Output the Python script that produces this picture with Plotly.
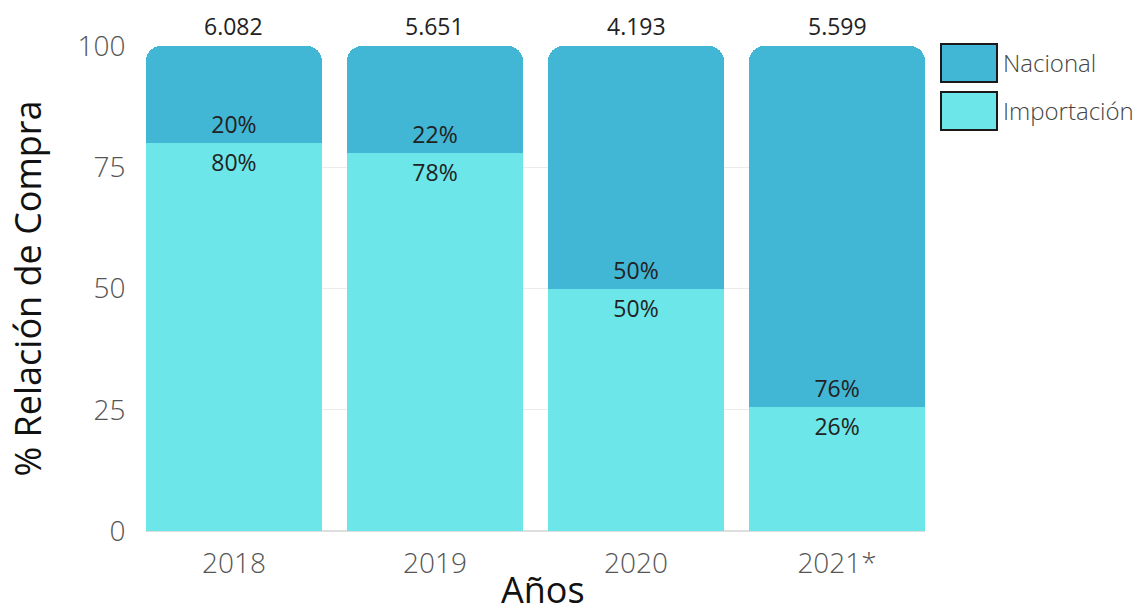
import plotly.graph_objects as go

# Purchase split by origin, per year (percent of total purchases)
years = ["2018", "2019", "2020", "2021*"]
nacional = [20, 22, 50, 76]
importacion = [80, 78, 50, 26]
# Total purchases per year, shown above each bar
totales = ["6.082", "5.651", "4.193", "5.599"]
y_ticks = [0, 25, 50, 75, 100]

legend_names = ["Nacional", "Importación"]
col_nacional = "#41b6d5"
col_importacion = "#6ce6e8"

FONT = "Open Sans"
BARGAP = 0.125

# plot-area geometry (pixels) used for the hand-drawn legend and x title
L, R, T, B = 146, 210, 46, 82
W, H = 1135, 613
PW, PH = W - L - R, H - T - B

fig = go.Figure()

fig.add_trace(go.Bar(
    x=years, y=importacion, name=legend_names[1],
    marker=dict(color=col_importacion, line=dict(width=0)),
    text=importacion, texttemplate="%{text}%",
    textposition="inside", insidetextanchor="end",
    textangle=0,
    textfont=dict(family=FONT, size=23, color="#222222"),
    showlegend=False,
))
fig.add_trace(go.Bar(
    x=years, y=nacional, name=legend_names[0],
    marker=dict(color=col_nacional, line=dict(width=0)),
    text=nacional, texttemplate="%{text}%",
    textposition="inside", insidetextanchor="start",
    textangle=0,
    textfont=dict(family=FONT, size=23, color="#222222"),
    showlegend=False,
))

# Totals above each bar (x is the category index on the category axis)
for i, tot in enumerate(totales):
    fig.add_annotation(
        x=i, y=100, xref="x", yref="y", text=tot,
        showarrow=False, yanchor="bottom", yshift=2,
        font=dict(family=FONT, size=23, color="#222222"),
    )

# Hand-drawn legend with large swatches
legend_items = [(legend_names[0], col_nacional), (legend_names[1], col_importacion)]
for i, (name, col) in enumerate(legend_items):
    y0 = 44 + i * 48
    fig.add_shape(
        type="rect", xref="paper", yref="paper",
        x0=(941 - L) / PW, x1=(997 - L) / PW,
        y0=1 - (y0 + 38 - T) / PH, y1=1 - (y0 - T) / PH,
        fillcolor=col, line=dict(color="#1a1a1a", width=2),
    )
    fig.add_annotation(
        x=(1001 - L) / PW, y=1 - (y0 + 19 - T) / PH,
        xref="paper", yref="paper", text=name, showarrow=False,
        xanchor="left", yanchor="middle",
        font=dict(family=FONT, size=24, color="#444444", weight=300),
    )

# x-axis title near the bottom edge
fig.add_annotation(
    x=(543 - L) / PW, y=-(589 - (H - B)) / PH,
    xref="paper", yref="paper", text="Años", showarrow=False,
    xanchor="center", yanchor="middle",
    font=dict(family=FONT, size=36, color="#111111"),
)

fig.update_layout(
    barmode="stack", barnorm="percent",
    bargap=BARGAP, barcornerradius=15,
    width=W, height=H,
    margin=dict(l=L, r=R, t=T, b=B, autoexpand=False),
    paper_bgcolor="white", plot_bgcolor="white",
    font=dict(family=FONT, color="#444444"),
)
fig.update_xaxes(
    type="category", automargin=False,
    range=[-0.5 + BARGAP / 2, len(years) - 0.5 - BARGAP / 2],
    tickfont=dict(family=FONT, size=28, color="#555555", weight=300),
    showgrid=False, showline=False,
    ticks="outside", ticklen=7, tickcolor="rgba(0,0,0,0)",
)
fig.update_yaxes(
    automargin=False,
    title=dict(text="% Relación de Compra", font=dict(family=FONT, size=36, color="#111111"), standoff=24),
    tickfont=dict(family=FONT, size=28, color="#555555", weight=300),
    range=[0, 100], tickvals=y_ticks,
    showgrid=True, gridcolor="#ebebeb", gridwidth=1,
    zeroline=True, zerolinecolor="#dddddd", zerolinewidth=2,
    ticks="outside", ticklen=14, tickcolor="rgba(0,0,0,0)",
)

fig.write_html("out.html")
